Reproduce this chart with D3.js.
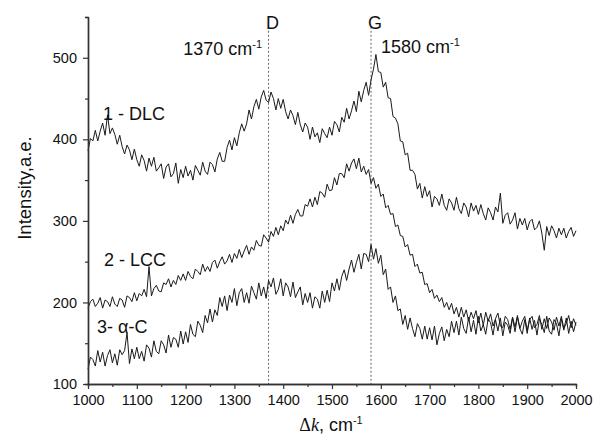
<!DOCTYPE html>
<html>
<head>
<meta charset="utf-8">
<script src="https://cdn.jsdelivr.net/npm/d3@7/dist/d3.min.js"></script>
<style>
    body { margin: 0; background: #fff; }
    text { font-family: "Liberation Sans", Arial, sans-serif; fill: #111; }
</style>
</head>
<body>
<div id="chart"></div>
<script>
// Raman shift grid, cm-1 (one reading every 5 cm-1)
const shiftStart = 1000, shiftStep = 5;

// 1 - DLC
const dlc = [
    386,401,398,411,398,410,420,405,430,407,414,406,394,405,391,382,393,387,375,388,
    375,367,381,374,361,377,367,378,361,365,370,352,366,370,354,358,371,346,363,353,
    367,355,362,350,368,362,356,372,361,357,372,369,360,376,384,373,373,390,399,387,
    402,392,408,419,410,419,436,425,440,449,437,452,460,448,445,458,450,436,450,438,
    449,434,425,436,429,418,433,418,409,420,415,400,415,403,408,396,413,407,402,415,
    405,422,418,409,427,421,438,425,435,447,434,459,446,460,470,454,473,486,504,483,
    482,464,470,451,450,428,426,419,398,397,381,383,362,362,357,339,346,328,342,330,
    337,317,330,327,319,333,319,313,327,322,313,329,315,309,322,317,305,322,312,319,
    308,320,309,301,316,310,301,317,311,334,297,307,310,296,301,310,290,303,295,303,
    289,299,302,289,292,300,285,264,293,282,294,288,279,291,283,291,279,287,292,281,
    288
];

// 2 - LCC
const lcc = [
    193,201,204,195,199,206,193,203,201,195,207,198,195,205,203,194,208,206,201,212,
    202,211,208,216,207,244,208,217,221,214,213,224,222,229,219,227,222,233,227,235,
    227,238,232,229,241,238,234,247,238,244,238,249,252,242,250,256,247,251,259,249,
    260,254,265,255,263,270,259,268,264,276,270,269,283,279,274,287,281,292,283,294,
    288,301,296,307,297,308,314,306,306,320,318,327,317,329,320,336,334,329,345,337,
    338,353,344,358,358,353,370,361,371,376,364,377,360,367,357,363,346,353,340,345,
    330,333,316,319,308,309,293,295,282,281,268,271,258,259,244,247,236,237,222,223,
    212,216,205,209,201,206,194,200,191,199,186,194,182,194,182,191,177,188,180,190,
    175,187,172,188,177,186,171,180,187,171,169,183,179,167,182,170,184,168,177,183,
    166,179,183,169,173,184,167,180,168,181,176,166,182,171,183,168,174,184,169,180,
    172
];

// 3 - a-C
const aC = [
    118,133,130,122,141,127,139,122,135,142,126,137,123,142,136,141,163,125,143,131,
    145,131,140,128,148,144,133,153,140,137,153,148,138,160,145,157,155,145,165,149,
    164,151,173,161,158,177,172,163,184,175,192,176,191,184,206,195,208,190,209,200,
    217,196,212,217,200,212,199,220,212,204,224,208,219,205,227,219,230,210,216,229,
    208,224,219,207,225,206,213,219,197,211,200,212,193,207,204,193,214,200,215,201,
    224,214,229,215,232,240,227,241,252,237,249,259,241,260,259,250,271,253,266,248,
    258,234,241,216,219,200,208,190,192,173,184,167,181,168,158,174,168,155,171,155,
    169,154,171,148,162,170,153,167,158,177,163,177,160,182,168,162,182,164,178,161,
    183,165,173,161,180,175,160,179,165,181,159,176,172,162,181,164,182,168,161,179,
    162,181,167,178,160,180,173,163,183,165,161,179,174,159,180,166,181,162,177,164,
    176
];

// axis ticks
const xTicks = [1000, 1100, 1200, 1300, 1400, 1500, 1600, 1700, 1800, 1900, 2000];
const xMinor = [1050, 1150, 1250, 1350, 1450, 1550, 1650, 1750, 1850, 1950];
const yTicks = [100, 200, 300, 400, 500];
const yMinor = [150, 250, 350, 450, 550];

// band positions (D and G)
const bands = [
    {name: "D", pos: 1370},
    {name: "G", pos: 1580}
];

const W = 594, H = 443;
let margin = {top: 17, right: 18, bottom: 59, left: 88};

let svg = d3.select("#chart")
    .append("svg")
    .attr("width", W)
    .attr("height", H);

let x = d3.scaleLinear().domain([1000, 2000]).range([margin.left, W - margin.right]);
let y = d3.scaleLinear().domain([100, 550]).range([H - margin.bottom, margin.top]);

// dashed band markers
svg.selectAll("line.band")
    .data(bands)
    .enter().append("line")
    .attr("class", "band")
    .attr("x1", d => x(d.pos)).attr("x2", d => x(d.pos))
    .attr("y1", y(538)).attr("y2", y(100))
    .style("stroke", "#666")
    .style("stroke-width", 1)
    .style("stroke-dasharray", "2,2");

svg.selectAll("text.band")
    .data(bands)
    .enter().append("text")
    .attr("class", "band")
    .attr("x", d => x(d.pos) + 4)
    .attr("y", 29)
    .attr("text-anchor", "middle")
    .style("font-size", "18px")
    .text(d => d.name);

// spectra
let line = d3.line()
    .x((d, i) => x(shiftStart + i * shiftStep))
    .y(d => y(d));

[dlc, lcc, aC].forEach(function (series) {
    svg.append("path")
        .datum(series)
        .attr("d", line)
        .style("fill", "none")
        .style("stroke", "#1a1a1a")
        .style("stroke-width", 1);
});

// axes
function styleAxis(g) {
    g.select(".domain").style("stroke", "#333").style("stroke-width", 1.4);
    g.selectAll(".tick line").style("stroke", "#333").style("stroke-width", 1.2);
    g.selectAll(".tick text")
        .style("font-family", "\"Liberation Sans\", Arial, sans-serif")
        .style("font-size", "14.5px")
        .style("fill", "#111");
}

svg.append("g")
    .attr("transform", "translate(0," + y(100) + ")")
    .call(d3.axisBottom(x).tickValues(xMinor).tickSize(3).tickFormat(""))
    .call(styleAxis);
svg.append("g")
    .attr("transform", "translate(0," + y(100) + ")")
    .call(d3.axisBottom(x).tickValues(xTicks).tickSize(5).tickSizeOuter(0).tickPadding(6).tickFormat(d3.format("d")))
    .call(styleAxis);

svg.append("g")
    .attr("transform", "translate(" + x(1000) + ",0)")
    .call(d3.axisLeft(y).tickValues(yMinor).tickSize(3).tickFormat(""))
    .call(styleAxis);
svg.append("g")
    .attr("transform", "translate(" + x(1000) + ",0)")
    .call(d3.axisLeft(y).tickValues(yTicks).tickSize(5).tickSizeOuter(0).tickPadding(6).tickFormat(d3.format("d")))
    .call(styleAxis);

// wavenumber annotations
function wavenumber(txt, px, py, anchor) {
    let t = svg.append("text")
        .attr("x", px).attr("y", py)
        .attr("text-anchor", anchor)
        .style("font-size", "18px");
    t.append("tspan").text(txt + " cm");
    t.append("tspan").attr("dy", -7).style("font-size", "11px").text("-1");
}
wavenumber("1370", 262, 55, "end");
wavenumber("1580", 381, 53, "start");

// curve labels
const curveLabels = [
    {text: "1 - DLC", px: 103, py: 120},
    {text: "2 - LCC", px: 104, py: 266},
    {text: "3- \u03b1-C", px: 97, py: 333}
];
svg.selectAll("text.curve")
    .data(curveLabels)
    .enter().append("text")
    .attr("class", "curve")
    .attr("x", d => d.px)
    .attr("y", d => d.py)
    .style("font-size", "18px")
    .text(d => d.text);

// axis titles
svg.append("text")
    .attr("transform", "translate(31," + 188 + ") rotate(-90)")
    .attr("text-anchor", "middle")
    .style("font-size", "18.5px")
    .text("Intensity,a.e.");

let xt = svg.append("text")
    .attr("x", 331).attr("y", 431)
    .attr("text-anchor", "middle")
    .style("font-size", "18px");
xt.append("tspan").style("font-family", "\"Liberation Serif\", serif").text("\u0394");
xt.append("tspan").style("font-family", "\"Liberation Serif\", serif").style("font-style", "italic").text("k");
xt.append("tspan").text(", cm");
xt.append("tspan").attr("dy", -7).style("font-size", "11px").text("-1");
</script>
</body>
</html>
